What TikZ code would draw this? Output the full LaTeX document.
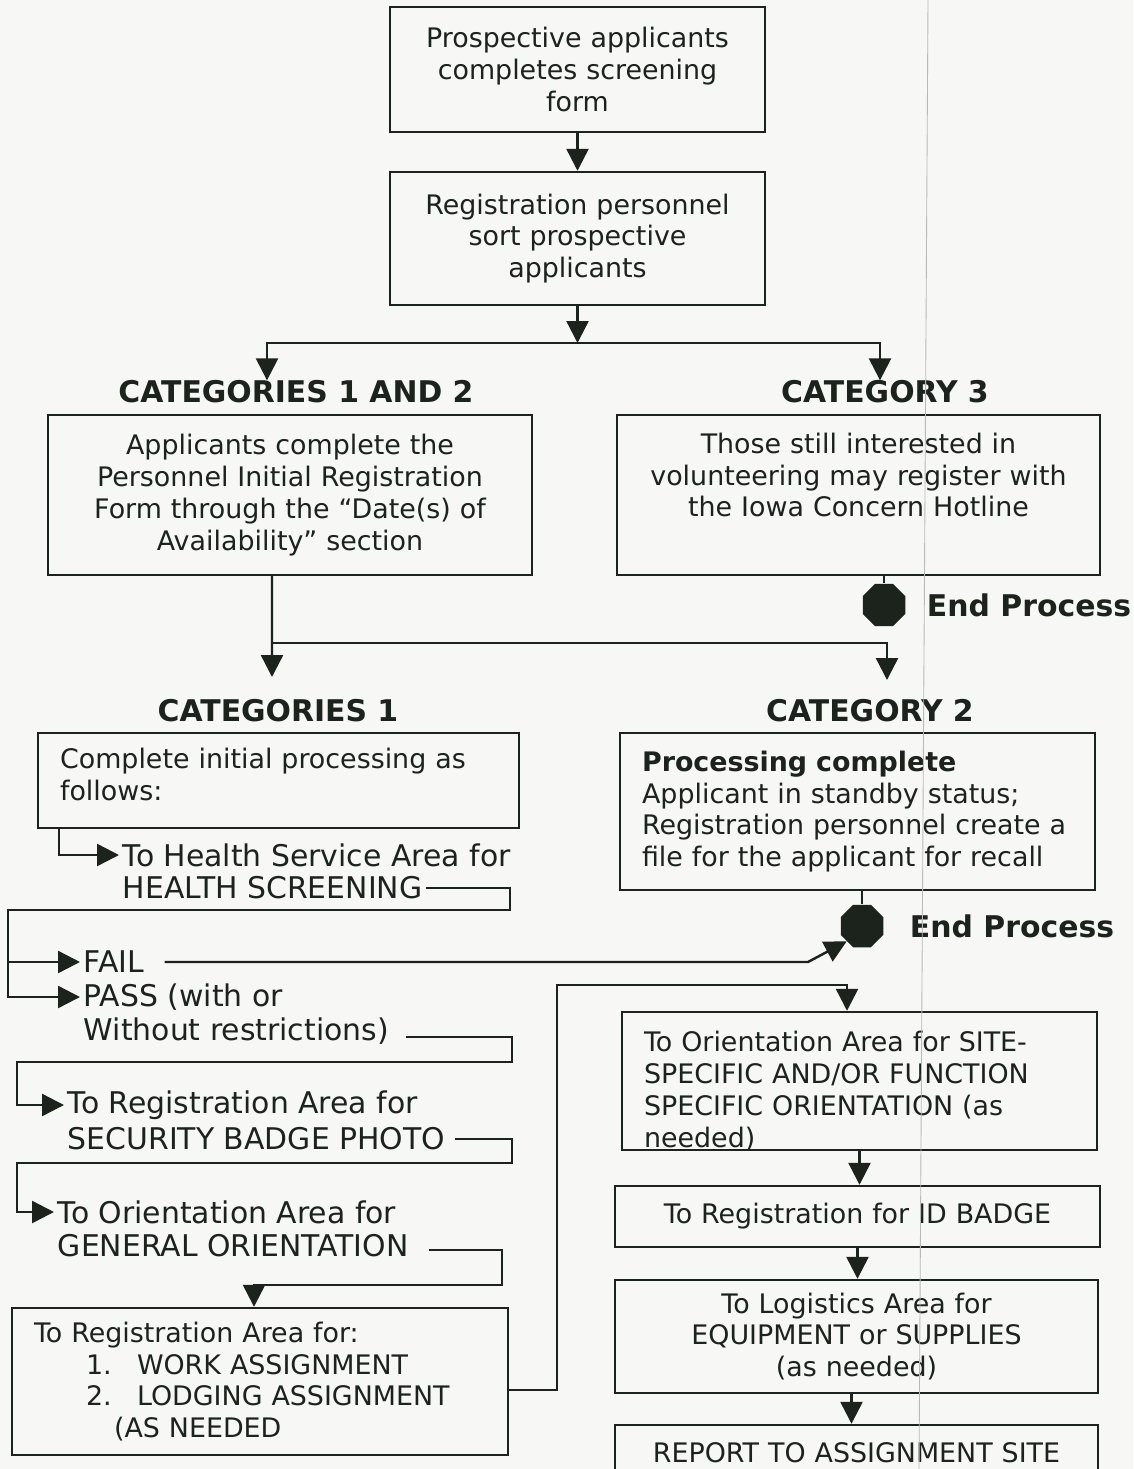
\documentclass[tikz,border=0pt]{standalone}
\usepackage{fontspec}
\setmainfont{DejaVu Sans}
\usetikzlibrary{arrows.meta,shapes.geometric,positioning}
\definecolor{ink}{RGB}{28,34,28}
\definecolor{paper}{RGB}{247,247,245}

\begin{document}
\begin{tikzpicture}[x=0.02cm, y=-0.02cm,
  box/.style={draw=ink, line width=1.4pt, text=ink, inner xsep=0.44cm, inner ysep=0pt,
    font=\fontsize{15.3}{18.1}\selectfont},
  cbox/.style={box, align=center},
  lbox/.style={box, align=left},
  head/.style={text=ink, inner sep=0pt, font=\fontsize{17}{19}\selectfont\bfseries},
  flow/.style={anchor=west, text=ink, inner xsep=2pt, inner ysep=0pt,
    font=\fontsize{17}{19}\selectfont},
  stop/.style={regular polygon, regular polygon sides=8, fill=ink,
    minimum size=0.92cm, inner sep=0pt},
  arr/.style={draw=ink, line width=1.4pt, -{Triangle[length=0.44cm,width=0.44cm]}},
  ln/.style={draw=ink, line width=1.4pt}
  ]
  \useasboundingbox (0,0) rectangle (1133,1469);
  \clip (0,0) rectangle (1133,1469);
  \fill[paper] (0,0) rectangle (1133,1469);

  % top of the flow
  \node[cbox, text width=6.62cm, minimum height=2.5cm] (screen) at (577.5,69.5)
    {Prospective applicants\\completes screening\\form};
  \node[cbox, text width=6.62cm, minimum height=2.66cm] (sort) at (577.5,238.5)
    {Registration personnel\\sort prospective\\applicants};
  \coordinate (split) at (577.5,343);

  \node[head] (h12) at (296,392) {CATEGORIES 1 AND 2};
  \node[head] (h3) at (885,392) {CATEGORY 3};
  \node[cbox, text width=8.8cm, minimum height=3.2cm] (cat12box) at (290,495)
    {Applicants complete the\\Personnel Initial Registration\\Form through the “Date(s) of\\Availability” section};
  \node[cbox, text width=8.78cm, minimum height=3.2cm, text depth=59pt] (cat3box) at (858.5,495)
    {Those still interested in\\volunteering may register with\\the Iowa Concern Hotline};
  \node[stop] (end1) at (884,605) {};
  \node[head, right=0.42cm of end1] (endtxt1) {End Process};

  \coordinate (j2) at (272,643);
  \coordinate (t1) at (272,677);
  \coordinate (t2) at (887,680);

  \node[head] (h1) at (278,711) {CATEGORIES 1};
  \node[head] (h2) at (870,711) {CATEGORY 2};
  \node[lbox, text width=8.74cm, minimum height=1.9cm, text depth=25pt] (cat1box) at (278.5,780.5)
    {Complete initial processing as\\follows:};
  \node[lbox, text width=8.62cm, minimum height=3.14cm] (cat2box) at (857.5,811.5)
    {\textbf{Processing complete}\\Applicant in standby status;\\Registration personnel create a\\file for the applicant for recall};
  \node[stop] (end2) at (862,926) {};
  \node[head, right=0.52cm of end2] (endtxt2) {End Process};

  % left column
  \node[flow] (hs1) at (119,855) {To Health Service Area for};
  \node[flow] (hs2) at (119,888) {HEALTH SCREENING};
  \node[flow] (fail) at (80,962) {FAIL};
  \node[flow] (pass1) at (80,997) {PASS (with or};
  \node[flow] (pass2) at (80,1031) {Without restrictions)};
  \node[flow] (sb1) at (64,1105) {To Registration Area for};
  \node[flow] (sb2) at (64,1139) {SECURITY BADGE PHOTO};
  \node[flow] (go1) at (54,1212) {To Orientation Area for};
  \node[flow] (go2) at (54,1246) {GENERAL ORIENTATION};
  \node[lbox, text width=9.04cm, minimum height=2.94cm] (asgn) at (260,1381.5)
    {To Registration Area for:\\
     \hspace*{1.04cm}\makebox[1.02cm][l]{1.}WORK ASSIGNMENT\\
     \hspace*{1.04cm}\makebox[1.02cm][l]{2.}LODGING ASSIGNMENT\\
     \hspace*{1.6cm}(AS NEEDED};

  \coordinate (k1) at (510,910);
  \coordinate (k2) at (8,910);
  \coordinate (f1) at (808,962);
  \coordinate (k3) at (512,1062);
  \coordinate (k4) at (17,1062);
  \coordinate (k5) at (512,1163);
  \coordinate (k6) at (17,1163);
  \coordinate (k7) at (502,1285);
  \coordinate (k8) at (557,985);

  % right column
  \node[lbox, text width=8.62cm, minimum height=2.76cm, text depth=45pt] (orient) at (859.5,1081)
    {To Orientation Area for SITE-\\SPECIFIC AND/OR FUNCTION\\SPECIFIC ORIENTATION (as\\needed)};
  \node[cbox, text width=8.82cm, minimum height=1.22cm] (idbadge) at (857.5,1216.5)
    {To Registration for ID BADGE};
  \node[cbox, text width=8.78cm, minimum height=2.26cm] (logist) at (856.5,1336.5)
    {To Logistics Area for\\EQUIPMENT or SUPPLIES\\(as needed)};
  \node[cbox, text width=8.78cm, minimum height=1.1cm] (report) at (856.5,1452.5)
    {REPORT TO ASSIGNMENT SITE};

  \draw[arr] (screen) -- (sort);
  \draw[arr] (sort) -- (split);
  \draw[arr] (split) -| ([xshift=-0.58cm]h12.north);
  \draw[arr] (split) -| ([xshift=-0.1cm]h3.north);
  \draw[ln] (end1 |- cat3box.south) -- (end1);
  \draw[arr] ([xshift=-0.36cm]cat12box.south) -- (t1);
  \draw[arr] (j2) -| (t2);
  \draw[ln] (end2 |- cat2box.south) -- (end2);

  \draw[arr] ([xshift=0.44cm]cat1box.south west) |- (hs1.west);
  \draw[arr] (hs2.east) -| (k1) -- (k2) |- (pass1.west);
  \draw[arr] (k2) |- (fail.west);
  \draw[arr] ([xshift=0.33cm]fail.east) -- (f1) -- (end2.south west);
  \draw[arr] ([xshift=0.27cm,yshift=-0.12cm]pass2.east) -| (k3) -- (k4) |- (sb1.west);
  \draw[arr] ([xshift=0.12cm]sb2.east) -| (k5) -- (k6) |- (go1.west);
  \draw[arr] ([xshift=0.33cm,yshift=-0.08cm]go2.east) -| (k7) -| ([xshift=-0.12cm]asgn.north);
  \draw[arr] ([yshift=-0.17cm]asgn.east) -| (k8) -| ([xshift=-0.25cm]orient.north);

  \draw[arr] (orient.south) -- (orient.south |- idbadge.north);
  \draw[arr] (idbadge.south) -- (idbadge.south |- logist.north);
  \draw[arr] ([xshift=-0.1cm]logist.south) -- ([xshift=-0.1cm]logist.south |- report.north);

  \draw[gray!55, line width=0.5pt] (928,0) -- (919,1469);
\end{tikzpicture}
\end{document}
